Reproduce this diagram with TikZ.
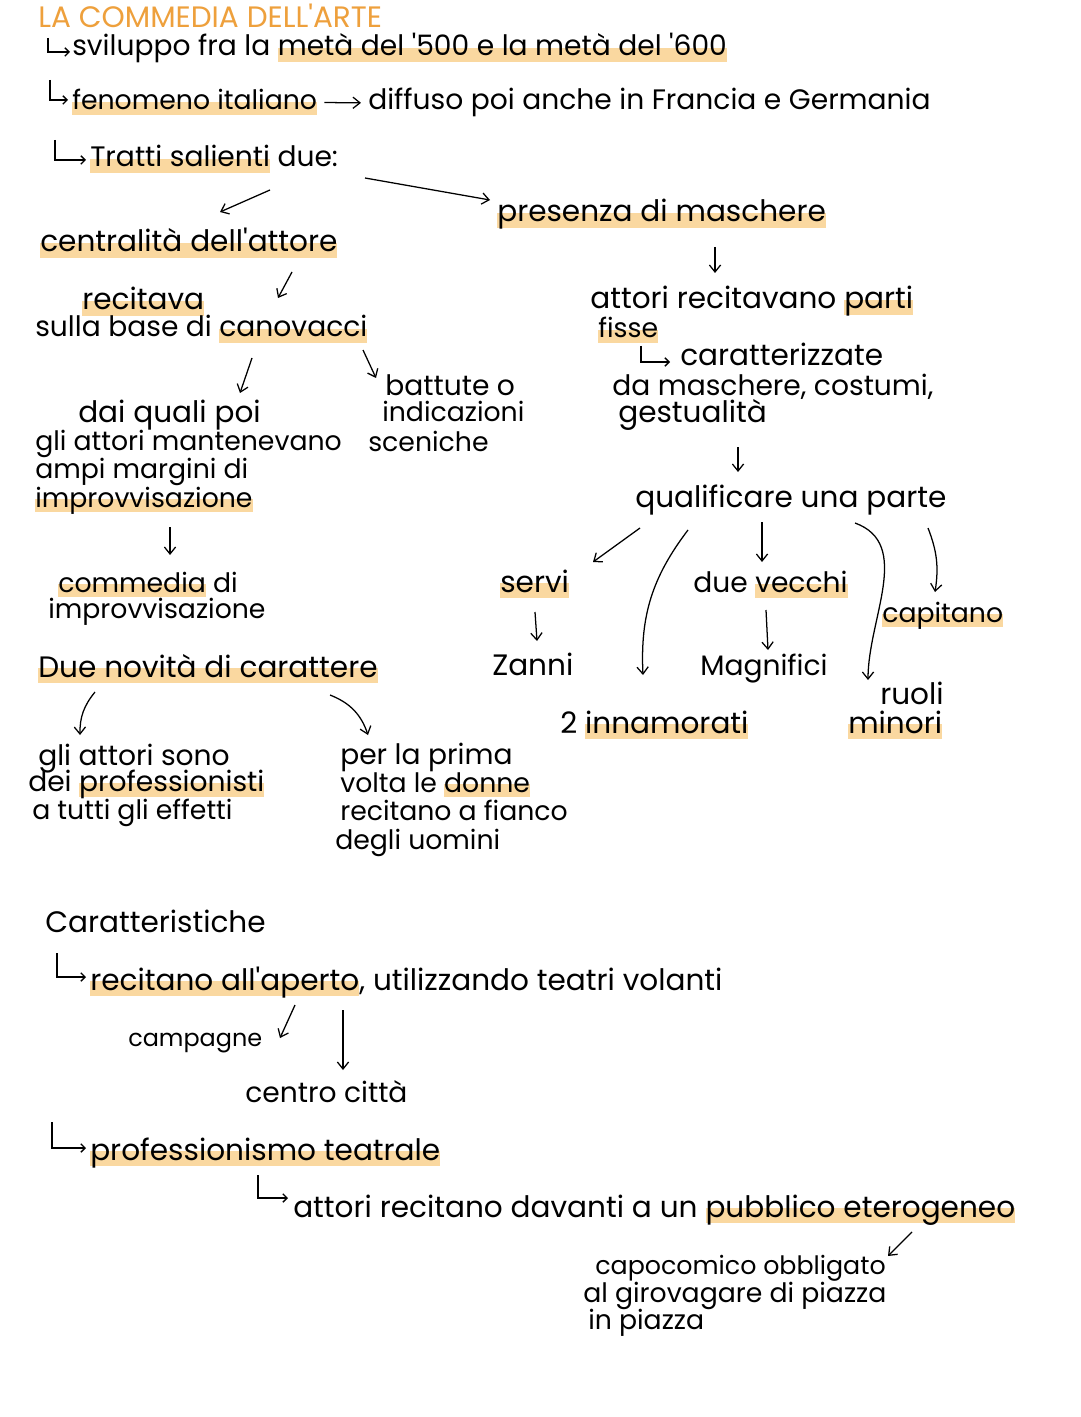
\documentclass[tikz,border=0pt]{standalone}
\usepackage{fontspec}
\usepackage{xcolor}
\usepackage{tikz}
\usetikzlibrary{arrows.meta, calc}
\newfontfamily\handfont{Poppins}
\newcommand\hand{\handfont\fontsize{20}{24}\selectfont}
\definecolor{hlcol}{RGB}{250,216,160}
\definecolor{titlecol}{RGB}{238,160,60}
% marker under a word
\newcommand\mk[1]{\sbox0{#1}\rlap{\color{hlcol}\rule[-0.2em]{\wd0}{0.5em}}\usebox0}

\begin{document}
\begin{tikzpicture}[x=0.025cm, y=-0.025cm,
    txt/.style={anchor=base west, inner sep=0pt, font=\hand},
    sz/.style={font=\handfont\fontsize{#1}{#1}\selectfont},
    arr/.style={-{Straight Barb[length=5pt,width=8pt]}, line width=0.9pt},
    hook/.style={-{Straight Barb[length=3pt,width=6pt]}, line width=0.9pt}]
    \useasboundingbox[fill=white] (0,0) rectangle (1080,1417);

    % Title and opening lines
    \node[txt, sz=21, text=titlecol] (title) at (38,28) {LA COMMEDIA DELL'ARTE};
    \node[txt] (l1) at (72,56) {sviluppo fra la \mk{metà del '500 e la metà del '600}};
    \node[txt, sz=19] (l2a) at (72,110) {\mk{fenomeno italiano}};
    \node[txt] (l2b) at (368,110) {diffuso poi anche in Francia e Germania};
    \node[txt] (l3) at (90,167) {\mk{Tratti salienti} due:};
    \draw[hook] ($(l1.base west)+(-24,-18)$) |- ($(l1.base west)+(-2,-4)$);
    \draw[hook] ($(l2a.base west)+(-22,-30)$) |- ($(l2a.base west)+(-4,-10)$);
    \draw[hook] ($(l3.base west)+(-35,-27)$) |- ($(l3.base west)+(-4,-7)$);
    \draw[arr, shorten <=5pt, shorten >=5pt] (l2a.east) -- (l2b.west);

    % Two main features
    \node[txt, sz=21] (pres) at (497,222) {\mk{presenza di maschere}};
    \node[txt, sz=21] (centr) at (40,252) {\mk{centralità dell'attore}};
    \draw[arr] ($(l3.base west)+(180,23)$) -- ($(centr.base west)+(180,-40)$);
    \draw[arr] ($(l3.base west)+(275,11)$) -- ($(pres.base west)+(-7,-22)$);

    % Left branch
    \node[txt, sz=21] (recit) at (82,310) {\mk{recitava}};
    \node[txt] (sulla) at (35,337) {sulla base di \mk{canovacci}};
    \node[txt] (batt1) at (385,395) {battute o};
    \node[txt, sz=19] (batt2) at (382,421) {indicazioni};
    \node[txt, sz=19] (batt3) at (368,451) {sceniche};
    \node[txt, sz=21] (dai1) at (78,422) {dai quali poi};
    \node[txt, sz=19] (dai2) at (35,450) {gli attori mantenevano};
    \node[txt, sz=19] (dai3) at (35,478) {ampi margini di};
    \node[txt, sz=19] (dai4) at (35,507) {\mk{improvvisazione}};
    \node[txt, sz=19] (comm1) at (58,592) {\mk{commedia} di};
    \node[txt, sz=19] (comm2) at (48,618) {improvvisazione};
    \node[txt, sz=21] (novita) at (38,677) {\mk{Due novità di carattere}};
    \node[txt] (prof1) at (38,765) {gli attori sono};
    \node[txt] (prof2) at (28,791) {dei \mk{professionisti}};
    \node[txt, sz=19] (prof3) at (32,819) {a tutti gli effetti};
    \node[txt] (donne1) at (340,764) {per la prima};
    \node[txt, sz=19] (donne2) at (340,792) {volta le \mk{donne}};
    \node[txt, sz=19] (donne3) at (340,820) {recitano a fianco};
    \node[txt, sz=19] (donne4) at (335,849) {degli uomini};
    \draw[arr] ($(centr.base west)+(252,20)$) -- ($(recit.base west)+(196,-12)$);
    \draw[arr] ($(sulla.base west)+(217,21)$) -- ($(dai1.base west)+(162,-29)$);
    \draw[arr] ($(sulla.base west)+(328,13)$) -- ($(batt1.base west)+(-9,-17)$);
    \draw[arr] ($(dai4.base west)+(135,20)$) -- ($(comm1.base west)+(112,-37)$);
    \draw[arr] ($(novita.base west)+(57,15)$) to[bend right=20] ($(prof1.base west)+(42,-30)$);
    \draw[arr] ($(novita.base west)+(292,18)$) to[bend left=25] ($(donne1.base west)+(28,-29)$);

    % Right branch
    \node[txt, sz=21] (parti) at (590,309) {attori recitavano \mk{parti}};
    \node[txt, sz=19] (fisse) at (598,338) {\mk{fisse}};
    \node[txt, sz=21] (caratt) at (680,366) {caratterizzate};
    \node[txt] (damasch) at (612,395) {da maschere, costumi,};
    \node[txt, sz=21] (gest) at (618,423) {gestualità};
    \node[txt, sz=21] (qual) at (635,507) {qualificare una parte};
    \draw[arr] ($(pres.base west)+(218,25)$) -- ($(parti.base west)+(125,-36)$);
    \draw[hook] ($(caratt.base west)+(-39,-20)$) |- ($(caratt.base west)+(-10,-4)$);
    \draw[arr] ($(gest.base west)+(120,24)$) -- ($(qual.base west)+(103,-35)$);

    % Masks
    \node[txt, sz=21] (servi) at (500,592) {\mk{servi}};
    \node[txt, sz=21] (zanni) at (492,675) {Zanni};
    \node[txt] (vecchi) at (693,592) {due \mk{vecchi}};
    \node[txt] (magn) at (700,675) {Magnifici};
    \node[txt, sz=19] (capit) at (882,622) {\mk{capitano}};
    \node[txt, sz=21] (innam) at (560,733) {2 \mk{innamorati}};
    \node[txt, sz=21] (ruoli) at (880,704) {ruoli};
    \node[txt, sz=21] (minori) at (848,733) {\mk{minori}};
    \draw[arr] ($(qual.base west)+(5,21)$) -- ($(servi.base west)+(93,-30)$);
    \draw[arr] ($(qual.base west)+(53,23)$) to[bend right=20] ($(innam.base west)+(83,-58)$);
    \draw[arr] ($(qual.base west)+(127,15)$) -- ($(vecchi.base west)+(69,-30)$);
    \draw[arr] ($(qual.base west)+(220,16)$) to[out=-20, in=90] ($(minori.base west)+(20,-53)$);
    \draw[arr] ($(qual.base west)+(293,21)$) to[bend left=15] ($(capit.base west)+(53,-30)$);
    \draw[arr] ($(servi.base west)+(35,20)$) -- ($(zanni.base west)+(45,-34)$);
    \draw[arr] ($(vecchi.base west)+(73,18)$) -- ($(magn.base west)+(68,-25)$);

    % Caratteristiche
    \node[txt, sz=21] (car) at (45,932) {Caratteristiche};
    \node[txt, sz=21] (aperto) at (90,990) {\mk{recitano all'aperto}, utilizzando teatri volanti};
    \node[txt, sz=17] (campagne) at (128,1046) {campagne};
    \node[txt] (centro) at (245,1102) {centro città};
    \node[txt, sz=21] (profte) at (90,1160) {\mk{professionismo teatrale}};
    \node[txt, sz=21] (pubbl) at (293,1217) {attori recitano davanti a un \mk{pubblico eterogeneo}};
    \node[txt, sz=18] (capo1) at (595,1274) {capocomico obbligato};
    \node[txt, sz=19] (capo2) at (583,1302) {al girovagare di piazza};
    \node[txt, sz=19] (capo3) at (588,1329) {in piazza};
    \draw[hook] ($(aperto.base west)+(-33,-37)$) |- ($(aperto.base west)+(-4,-13)$);
    \draw[arr] ($(aperto.base west)+(205,15)$) -- ($(campagne.base west)+(152,-8)$);
    \draw[arr] ($(aperto.base west)+(253,20)$) -- ($(centro.base west)+(98,-32)$);
    \draw[hook] ($(profte.base west)+(-38,-38)$) |- ($(profte.base west)+(-4,-12)$);
    \draw[hook] ($(pubbl.base west)+(-35,-42)$) |- ($(pubbl.base west)+(-5,-19)$);
    \draw[arr] ($(pubbl.base west)+(619,15)$) -- ($(capo1.base west)+(293,-18)$);
\end{tikzpicture}
\end{document}
